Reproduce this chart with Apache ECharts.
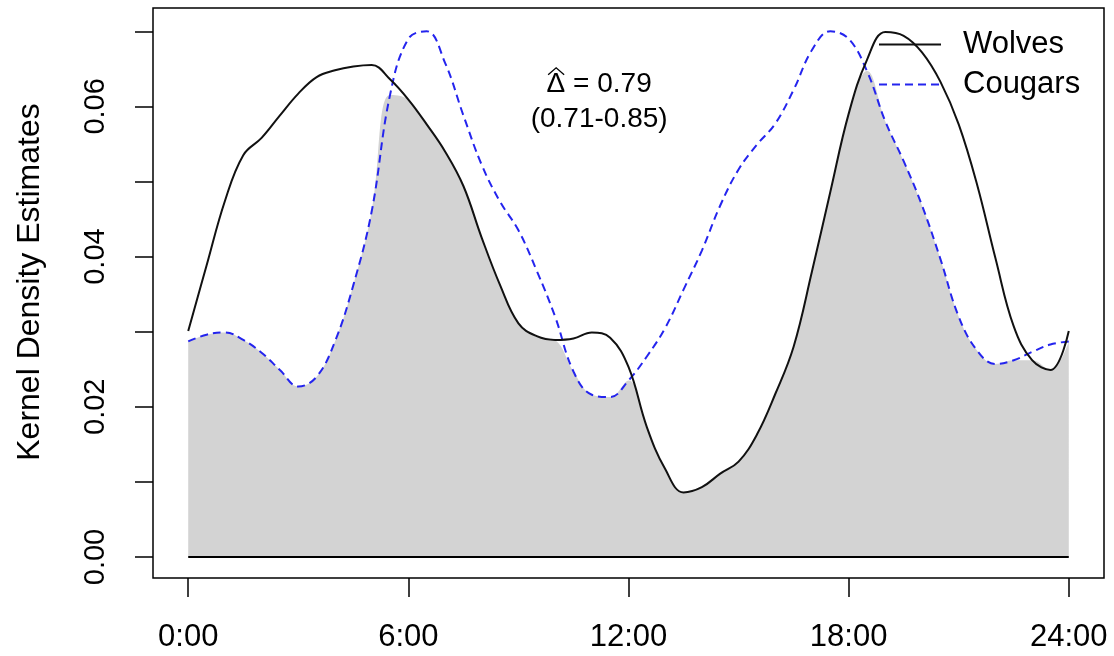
<!DOCTYPE html>
<html>
<head>
<meta charset="utf-8">
<script src="https://cdn.jsdelivr.net/npm/echarts@6/dist/echarts.min.js"></script>
<style>
html,body{margin:0;padding:0;background:#fff;}
#chart{width:1114px;height:656px;}
</style>
</head>
<body>
<div id="chart"></div>
<script>
// ---- data ----
const hours = [0,0.5,1,1.5,2,2.5,3,3.5,4,4.5,5,5.5,6,6.5,7,7.5,8,8.5,9,9.5,10,10.5,11,11.5,12,12.5,13,13.5,14,14.5,15,15.5,16,16.5,17,17.5,18,18.5,19,19.5,20,20.5,21,21.5,22,22.5,23,23.5,24];
const wolves = [0.0301,0.0388,0.0474,0.0535,0.0558,0.0588,0.0617,0.0639,0.0648,0.0653,0.0655,0.0636,0.0609,0.0576,0.0540,0.0494,0.0425,0.0362,0.0311,0.0294,0.0289,0.0291,0.0299,0.0292,0.0253,0.0173,0.0117,0.0086,0.0093,0.0111,0.0127,0.0163,0.0217,0.0280,0.0380,0.0486,0.0590,0.0662,0.0699,0.0694,0.0672,0.0633,0.0576,0.0496,0.0398,0.0307,0.0262,0.0249,0.0301];
const cougars = [0.0287,0.0296,0.0299,0.0289,0.0272,0.0249,0.0227,0.0240,0.0287,0.0362,0.0460,0.0615,0.0690,0.0700,0.0658,0.0588,0.0522,0.0473,0.0435,0.0381,0.0320,0.0247,0.0216,0.0213,0.0235,0.0267,0.0305,0.0356,0.0408,0.0468,0.0516,0.0549,0.0577,0.0622,0.0675,0.0700,0.0690,0.0647,0.0580,0.0527,0.0468,0.0397,0.0320,0.0275,0.0257,0.0262,0.0273,0.0283,0.0287];
const xTickValues = [0,6,12,18,24];
const xTickLabels = ['0:00','6:00','12:00','18:00','24:00'];
const yTickValues = [0,0.01,0.02,0.03,0.04,0.05,0.06,0.07];
const yLabelValues = [0,0.02,0.04,0.06];
const seriesNames = ['Wolves','Cougars'];
const yTitle = 'Kernel Density Estimates';
const overlapEstimate = '0.79';
const overlapCI = '(0.71-0.85)';

// ---- derived ----
const wolvesData = hours.map((h,i)=>[h,wolves[i]]);
const cougarsData = hours.map((h,i)=>[h,cougars[i]]);
const overlapData = hours.map((h,i)=>[h,Math.min(wolves[i],cougars[i])]);
const baseData = [[hours[0],0],[hours[hours.length-1],0]];

const FONT = "'Liberation Sans', Arial, sans-serif";
const chart = echarts.init(document.getElementById('chart'), null, {renderer:'canvas'});

const option = {
  backgroundColor:'#ffffff',
  animation:false,
  grid:{left:153, top:8, right:10, bottom:78, show:true, borderColor:'#000', borderWidth:1.5, backgroundColor:'transparent'},
  xAxis:{
    type:'value', min:-0.96, max:24.96,
    axisLine:{show:false, onZero:false},
    axisTick:{show:true, inside:false, length:19, customValues:xTickValues, lineStyle:{color:'#000', width:1.5}},
    axisLabel:{show:true, customValues:xTickValues, margin:44, fontSize:31, color:'#000', fontFamily:FONT,
      formatter:(v)=>{const i=xTickValues.indexOf(v); return i>=0?xTickLabels[i]:'';}},
    splitLine:{show:false}
  },
  yAxis:{
    type:'value', min:-0.0028, max:0.0731,
    name:yTitle, nameLocation:'middle', nameRotate:90, nameGap:107,
    nameTextStyle:{fontSize:32, color:'#000', fontFamily:FONT, padding:[0,0,0,22]},
    axisLine:{show:false, onZero:false},
    axisTick:{show:true, inside:false, length:18, customValues:yTickValues, lineStyle:{color:'#000', width:1.5}},
    axisLabel:{show:true, customValues:yLabelValues, rotate:90, margin:43, fontSize:29, color:'#000', fontFamily:FONT,
      formatter:(v)=>v.toFixed(2)},
    splitLine:{show:false}
  },
  legend:{
    show:true, orient:'vertical', left:873, top:24, itemWidth:62, itemHeight:14, itemGap:9,
    data:seriesNames,
    itemStyle:{opacity:0},
    textStyle:{fontSize:31, color:'#000', fontFamily:FONT, padding:[0,0,0,17]}
  },
  series:[
    {name:'overlap', type:'line', data:overlapData, smooth:0.4, symbol:'none', silent:true,
      lineStyle:{width:0}, areaStyle:{color:'#d3d3d3', opacity:1, origin:0}, z:1},
    {name:'baseline', type:'line', data:baseData, symbol:'none', silent:true,
      lineStyle:{color:'#000', width:2}, z:2},
    {name:seriesNames[0], type:'line', data:wolvesData, smooth:0.4, symbol:'none',
      lineStyle:{color:'#111', width:2, type:'solid'}, itemStyle:{color:'#111'}, z:4},
    {name:seriesNames[1], type:'line', data:cougarsData, smooth:0.4, symbol:'none',
      lineStyle:{color:'#2424ee', width:2, type:[8,5]}, itemStyle:{color:'#2424ee'}, z:3}
  ]
};
chart.setOption(option);

// annotation anchored to data coordinates
const p1 = chart.convertToPixel({gridIndex:0},[11.2,0.0630]);
const p2 = chart.convertToPixel({gridIndex:0},[11.2,0.0583]);
const line1 = '\u0394 = ' + overlapEstimate;
chart.setOption({
  graphic:[
    {type:'text', x:p1[0], y:p1[1], style:{text:line1, font:"28px 'Liberation Sans', Arial, sans-serif", fill:'#000', align:'center', verticalAlign:'middle'}},
    {type:'text', x:p2[0], y:p2[1], style:{text:overlapCI, font:"28px 'Liberation Sans', Arial, sans-serif", fill:'#000', align:'center', verticalAlign:'middle'}},
    {type:'polyline', shape:{points:[[p1[0]-51,p1[1]-9],[p1[0]-43,p1[1]-16],[p1[0]-35,p1[1]-9]]}, style:{stroke:'#000', lineWidth:1.3, fill:null}}
  ]
});
</script>
</body>
</html>
